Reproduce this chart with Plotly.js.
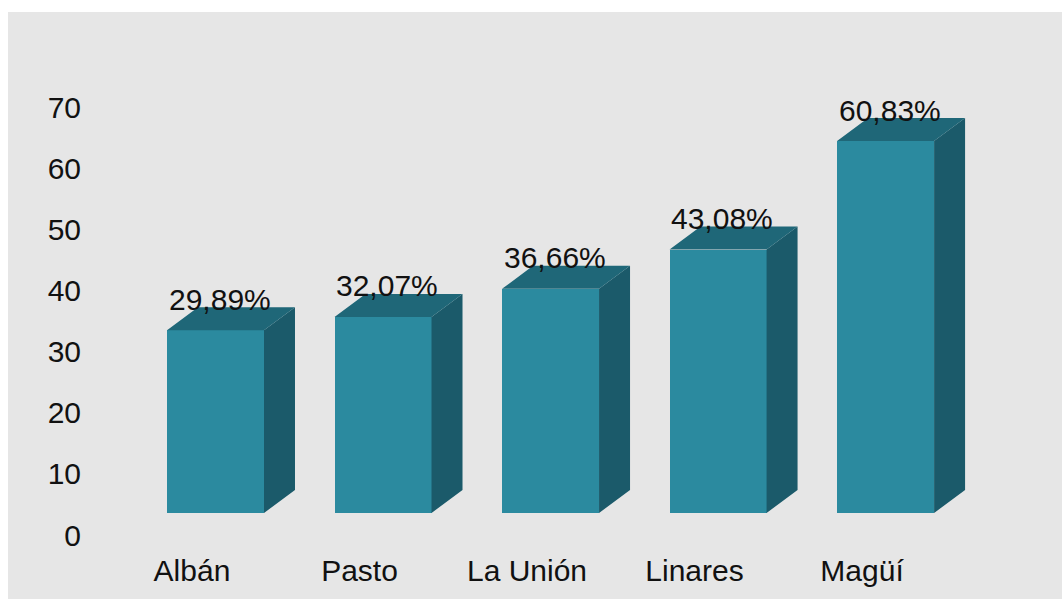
<!DOCTYPE html>
<html>
<head>
<meta charset="utf-8">
<script src="https://cdn.plot.ly/plotly-3.0.1.min.js"></script>
<style>
  html, body { margin: 0; padding: 0; background: #ffffff; }
  #myDiv { position: absolute; left: 8px; top: 12px; width: 1054px; height: 587px; }
</style>
</head>
<body>
<div id="myDiv"></div>
<script>
var municipios = ['Albán', 'Pasto', 'La Unión', 'Linares', 'Magüí'];
var porcentajes = [29.89, 32.07, 36.66, 43.08, 60.83];
var etiquetas = ['29,89%', '32,07%', '36,66%', '43,08%', '60,83%'];
var ejeY = [0, 10, 20, 30, 40, 50, 60, 70];

function DisplayPlot(){
    var idx = municipios.map(function(m, i){ return i; });

    // fake 3D look: front face is a bar, top and side are filled polygons
    var base = 3.6;      // floor of the front face
    var off = -0.149;
    var w = 0.579;
    var dx = 0.185;      // depth to the right
    var dy = 3.76;       // depth upwards

    var front = {
        x: idx,
        y: porcentajes,
        base: idx.map(function(){ return base; }),
        type: 'bar',
        offset: off,
        width: w,
        marker: { color: '#2b8a9f', line: { width: 0 } },
        hoverinfo: 'skip'
    };

    var topX = [], topY = [], sideX = [], sideY = [];
    for(var i = 0; i < idx.length; i++)
    {
        var x0 = idx[i] + off;
        var x1 = x0 + w;
        var yt = base + porcentajes[i];
        topX.push(x0, x0 + dx, x1 + dx, x1, x0, null);
        topY.push(yt, yt + dy, yt + dy, yt, yt, null);
        sideX.push(x1, x1 + dx, x1 + dx, x1, x1, null);
        sideY.push(base, base + dy, yt + dy, yt, base, null);
    }

    var top = {
        x: topX, y: topY, mode: 'lines', fill: 'toself',
        fillcolor: '#1f6778', line: { width: 0, color: '#1f6778' },
        hoverinfo: 'skip'
    };
    var side = {
        x: sideX, y: sideY, mode: 'lines', fill: 'toself',
        fillcolor: '#1b5a6a', line: { width: 0, color: '#1b5a6a' },
        hoverinfo: 'skip'
    };

    var font = { family: 'Liberation Sans, Arial', size: 30, color: '#111111' };

    var annotations = idx.map(function(i){
        return {
            x: i + off + w/2 + 0.024,
            y: base + porcentajes[i] + dy,
            text: etiquetas[i],
            showarrow: false,
            xanchor: 'center',
            yanchor: 'middle',
            yshift: 8,
            font: font
        };
    });

    var layout = {
        width: 1054,
        height: 587,
        margin: { l: 92, r: 14, t: 48, b: 54 },
        paper_bgcolor: '#e6e6e6',
        plot_bgcolor: '#e6e6e6',
        showlegend: false,
        bargap: 0,
        xaxis: {
            range: [-0.549, 5.11],
            tickvals: idx,
            ticktext: municipios,
            showgrid: false,
            zeroline: false,
            showline: false,
            ticks: '',
            ticklabelstandoff: 5,
            tickfont: font,
            fixedrange: true
        },
        yaxis: {
            range: [-1.636, 77.69],
            tickvals: ejeY,
            showgrid: false,
            zeroline: false,
            showline: false,
            ticks: '',
            ticklabelstandoff: 18,
            tickfont: font,
            fixedrange: true
        },
        annotations: annotations
    };

    Plotly.newPlot('myDiv', [front, side, top], layout, { displayModeBar: false, staticPlot: true });
    return false;
}

DisplayPlot();
</script>
</body>
</html>
